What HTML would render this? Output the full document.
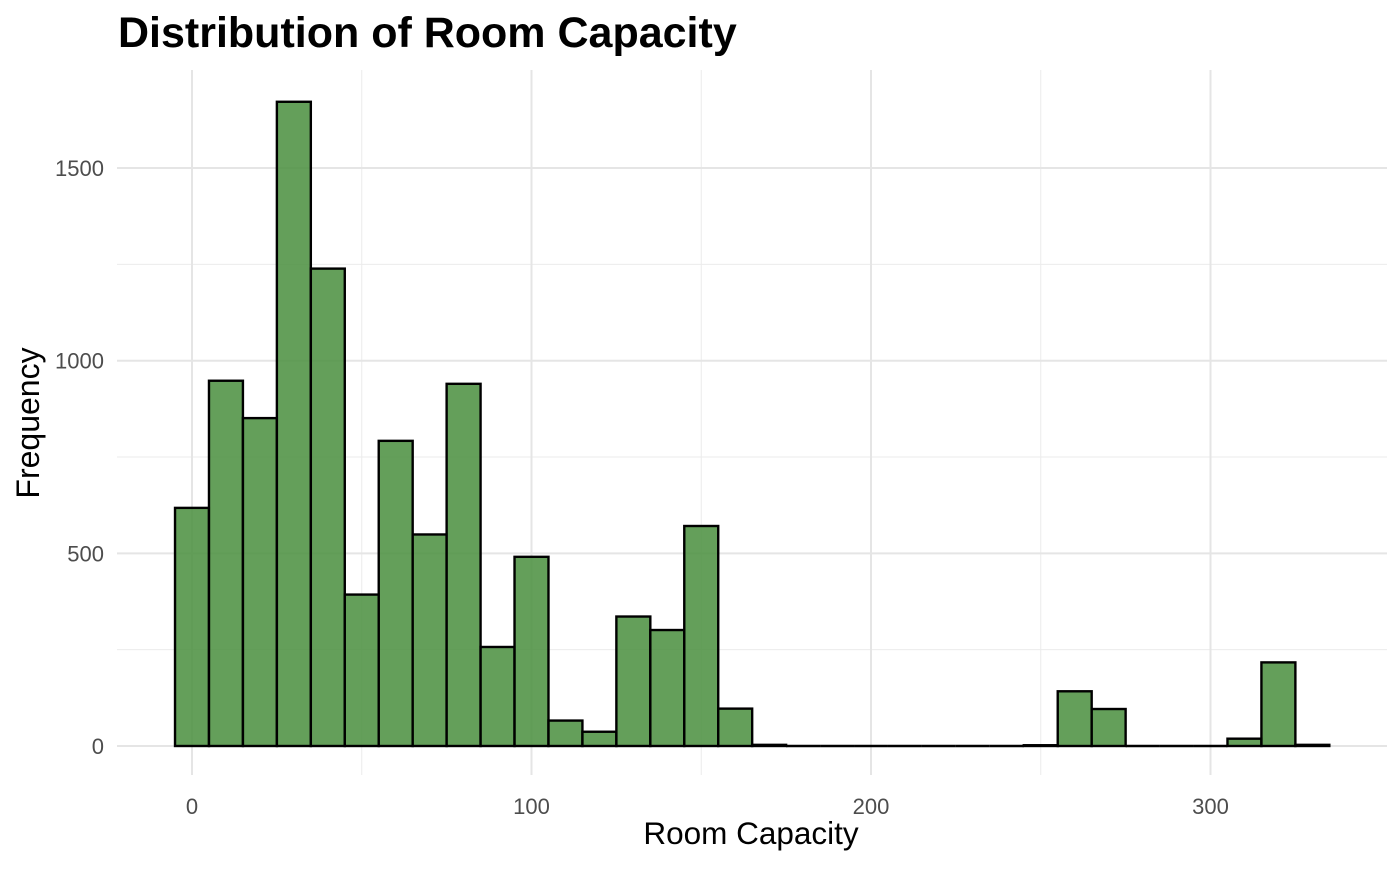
<!DOCTYPE html>
<html><head><meta charset="utf-8"><style>
body{margin:0;background:#fff;font-family:"Liberation Sans",Arial,sans-serif}
</style></head><body>
<svg id="chart" width="1400" height="865" xmlns="http://www.w3.org/2000/svg" font-family="Liberation Sans, Arial, sans-serif">
<text x="118" y="47" font-size="43" font-weight="bold" fill="#000">Distribution of Room Capacity</text>
<g id="grid"></g><g id="bars"></g><g id="axes"></g>
<text x="751" y="844" font-size="31.5" text-anchor="middle" fill="#000">Room Capacity</text>
<text transform="translate(39,423) rotate(-90)" font-size="32" text-anchor="middle" fill="#000">Frequency</text>
</svg>
<script>
const binCenters=[0,10,20,30,40,50,60,70,80,90,100,110,120,130,140,150,160,170,180,190,200,210,220,230,240,250,260,270,280,290,300,310,320,330];
const counts=[618,948,851,1672,1239,393,792,549,940,257,491,66,37,336,301,571,97,3,0,0,0,0,0,0,0,2,142,96,0,0,0,19,217,3];
const xTicks=[0,100,200,300];
const xMinor=[50,150,250];
const yTicks=[0,500,1000,1500];
const yMinor=[250,750,1250];
const binWidth=10;
const NS="http://www.w3.org/2000/svg";
const X0=192,XS=3.395,Y0=746,YS=0.3853;
const PL=117,PR=1387,PT=70,PB=775;
const xs=v=>X0+v*XS, ys=v=>Y0-v*YS;
function mk(tag,attrs,parent){const e=document.createElementNS(NS,tag);for(const k in attrs)e.setAttribute(k,attrs[k]);parent.appendChild(e);return e;}
const grid=document.getElementById('grid'),bars=document.getElementById('bars'),axes=document.getElementById('axes');
xMinor.forEach(v=>{const l=mk('line',{x1:xs(v),x2:xs(v),y1:PT,y2:PB,stroke:'#ebebeb','stroke-width':1},grid);

});
yMinor.forEach(v=>{const l=mk('line',{x1:PL,x2:PR,y1:ys(v),y2:ys(v),stroke:'#ebebeb','stroke-width':1},grid);

});
xTicks.forEach(v=>{const l=mk('line',{x1:xs(v),x2:xs(v),y1:PT,y2:PB,stroke:'#e5e5e5','stroke-width':2},grid);


const t=mk('text',{x:xs(v),y:814,'font-size':22,'text-anchor':'middle',fill:'#4d4d4d'},axes);t.textContent=v;

});
yTicks.forEach(v=>{const l=mk('line',{x1:PL,x2:PR,y1:ys(v),y2:ys(v),stroke:'#e5e5e5','stroke-width':2},grid);


const t=mk('text',{x:104,y:ys(v)+8,'font-size':22,'text-anchor':'end',fill:'#4d4d4d'},axes);t.textContent=v;

});
binCenters.forEach((c,i)=>{const x1=xs(c-binWidth/2),x2=xs(c+binWidth/2),y=ys(counts[i]);
if(Y0-y<0.5){const l=mk('line',{x1:x1,x2:x2,y1:Y0,y2:Y0,stroke:'#000','stroke-width':2.4},bars);

return;}
const r=mk('rect',{x:x1,y:y,width:x2-x1,height:Y0-y,fill:'#4d9141','fill-opacity':0.87,stroke:'#000','stroke-width':2.4},bars);

});
</script>
</body></html>
